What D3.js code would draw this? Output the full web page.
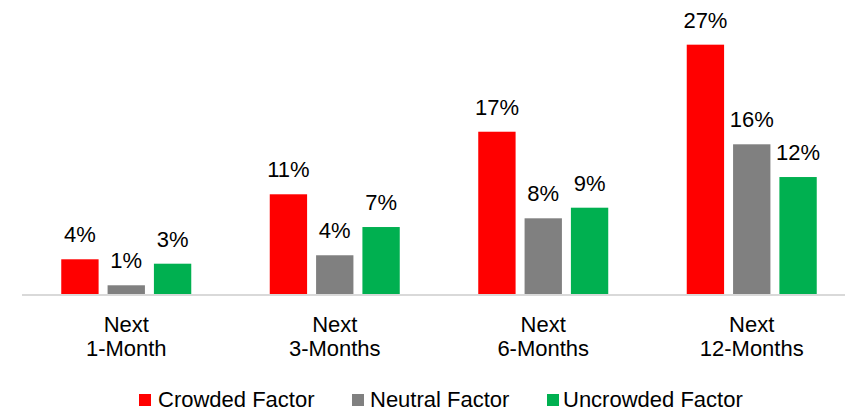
<!DOCTYPE html>
<html>
<head>
<meta charset="utf-8">
<script src="https://cdn.jsdelivr.net/npm/d3@7"></script>
<style>
  html, body { margin: 0; padding: 0; background: #fff; }
  text { font-family: "Liberation Sans", Arial, sans-serif; fill: #000; }
</style>
</head>
<body>
<svg id="chart" width="845" height="412"></svg>
<script>
// Horizons (two-line category labels)
const horizons = [["Next", "1-Month"], ["Next", "3-Months"], ["Next", "6-Months"], ["Next", "12-Months"]];
// Series names
const seriesNames = ["Crowded Factor", "Neutral Factor", "Uncrowded Factor"];
const seriesColors = ["#FF0000", "#808080", "#00B050"];
// Average return by horizon, percent
const crowded = [3.70, 10.63, 17.30, 26.58];
const neutral = [0.93, 4.13, 8.07, 15.96];
const uncrowded = [3.23, 7.14, 9.20, 12.47];

const seriesValues = [crowded, neutral, uncrowded];
const svg = d3.select("#chart");

const baseY = 294;
const x0 = d3.scaleBand().domain(d3.range(horizons.length)).range([22, 856]).paddingInner(0.3765).paddingOuter(0.1883);
const x1 = d3.scaleBand().domain(d3.range(seriesNames.length)).range([0, x0.bandwidth()]).paddingInner(0.194).paddingOuter(0);
const y = d3.scaleLinear().domain([0, 30]).range([baseY, baseY - 281.4]);
const fmt = v => d3.format(".0f")(v) + "%";

// Bars and value labels
const groups = svg.selectAll("g.grp").data(horizons).join("g")
  .attr("class", "grp")
  .attr("transform", (d, i) => `translate(${x0(i)},0)`);

groups.each(function(d, i) {
  const g = d3.select(this);
  seriesValues.forEach((vals, s) => {
    const v = vals[i];
    g.append("rect")
      .attr("x", x1(s))
      .attr("y", y(v))
      .attr("width", x1.bandwidth())
      .attr("height", y(0) - y(v))
      .attr("fill", seriesColors[s]);
    g.append("text")
      .attr("x", x1(s) + x1.bandwidth() / 2)
      .attr("y", y(v) - 17)
      .attr("text-anchor", "middle")
      .attr("font-size", 22)
      .text(fmt(v));
  });
});

// Category axis line
svg.append("line")
  .attr("x1", 22).attr("x2", 856)
  .attr("y1", baseY + 1).attr("y2", baseY + 1)
  .attr("stroke", "#D9D9D9").attr("stroke-width", 2);

// Category labels
horizons.forEach((lines, i) => {
  const cx = x0(i) + x0.bandwidth() / 2;
  const t = svg.append("text")
    .attr("x", cx)
    .attr("text-anchor", "middle")
    .attr("font-size", 22);
  lines.forEach((ln, k) => {
    t.append("tspan").attr("x", cx).attr("y", 332 + k * 24).text(ln);
  });
});

// Legend
const legendItems = [
  { sx: 139, tx: 158 },
  { sx: 352, tx: 370 },
  { sx: 547, tx: 563 }
];
seriesNames.forEach((name, s) => {
  svg.append("rect")
    .attr("x", legendItems[s].sx).attr("y", 394)
    .attr("width", 12).attr("height", 12)
    .attr("fill", seriesColors[s]);
  svg.append("text")
    .attr("x", legendItems[s].tx).attr("y", 407)
    .attr("font-size", 22)
    .text(name);
});
</script>
</body>
</html>
